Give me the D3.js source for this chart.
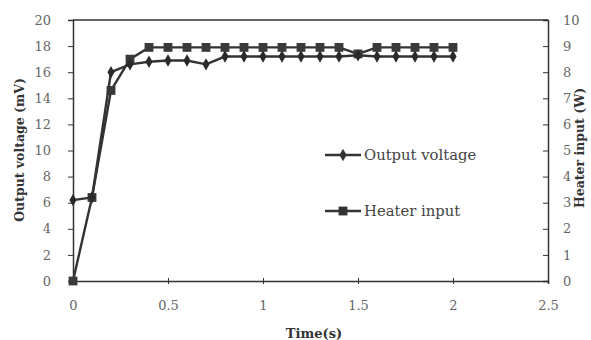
<!DOCTYPE html>
<html>
<head>
<meta charset="utf-8">
<script src="https://cdn.jsdelivr.net/npm/d3@7"></script>
<style>
  html, body { margin: 0; padding: 0; background: #fff; }
  svg { display: block; }
  text { font-family: "DejaVu Serif", "Liberation Serif", serif; }
</style>
</head>
<body>
<svg id="chart" width="591" height="340"></svg>
<script>
// Time samples (s)
const time = [0, 0.1, 0.2, 0.3, 0.4, 0.5, 0.6, 0.7, 0.8, 0.9, 1.0,
              1.1, 1.2, 1.3, 1.4, 1.5, 1.6, 1.7, 1.8, 1.9, 2.0];
// Output voltage (mV), left axis
const outputVoltage = [6.2, 6.4, 16.0, 16.6, 16.8, 16.9, 16.9, 16.6, 17.2, 17.2, 17.2,
                       17.2, 17.2, 17.2, 17.2, 17.3, 17.2, 17.2, 17.2, 17.2, 17.2];
// Heater input (W), right axis
const heaterInput = [0, 3.2, 7.3, 8.5, 8.95, 8.95, 8.95, 8.95, 8.95, 8.95, 8.95,
                     8.95, 8.95, 8.95, 8.95, 8.7, 8.95, 8.95, 8.95, 8.95, 8.95];

const xTicks = [0, 0.5, 1, 1.5, 2, 2.5];
const leftTicks = [0, 2, 4, 6, 8, 10, 12, 14, 16, 18, 20];
const rightTicks = [0, 1, 2, 3, 4, 5, 6, 7, 8, 9, 10];
const seriesNames = ["Output voltage", "Heater input"];

const svg = d3.select("#chart");
const m = { left: 73, right: 548, top: 20, bottom: 281 };
const ink = "#333";
const labelInk = "#666";
const serif = "'DejaVu Serif', 'Liberation Serif', serif";

const x = d3.scaleLinear().domain([0, 2.5]).range([m.left, m.right]);
const yL = d3.scaleLinear().domain([0, 20]).range([m.bottom, m.top]);
const yR = d3.scaleLinear().domain([0, 10]).range([m.bottom, m.top]);

// Frame: top border line
svg.append("line").attr("x1", m.left).attr("x2", m.right).attr("y1", m.top).attr("y2", m.top)
  .attr("stroke", ink).attr("stroke-width", 1.5);

// Left axis
const gL = svg.append("g").attr("transform", `translate(${m.left},0)`)
  .call(d3.axisLeft(yL).tickValues(leftTicks).tickSize(5).tickFormat(d3.format("d")));
// Right axis (ticks point inward)
const gR = svg.append("g").attr("transform", `translate(${m.right},0)`)
  .call(d3.axisRight(yR).tickValues(rightTicks).tickSize(-5).tickFormat(d3.format("d")));
// Bottom axis
const gB = svg.append("g").attr("transform", `translate(0,${m.bottom})`)
  .call(d3.axisBottom(x).tickValues(xTicks).tickSize(3).tickPadding(17).tickFormat(d3.format("")));
gB.selectAll(".tick line").attr("y1", -3);

[gL, gR, gB].forEach(g => {
  g.select(".domain").attr("stroke", ink).attr("stroke-width", 1.5);
  g.selectAll(".tick line").attr("stroke", ink).attr("stroke-width", 1);
  g.selectAll(".tick text").attr("fill", labelInk).style("font-size", "13px")
    .style("font-family", serif);
});
gL.selectAll(".tick text").attr("text-anchor", "end").attr("x", -22);
gR.selectAll(".tick text").attr("text-anchor", "start").attr("x", 15);

// Axis titles
svg.append("text").attr("transform", `translate(24,150) rotate(-90)`)
  .attr("text-anchor", "middle").attr("font-weight", "bold").attr("font-size", 12.5).attr("fill", ink)
  .text("Output voltage (mV)");
svg.append("text").attr("transform", `translate(584,148) rotate(-90)`)
  .attr("text-anchor", "middle").attr("font-weight", "bold").attr("font-size", 12.5).attr("fill", ink)
  .text("Heater input (W)");
svg.append("text").attr("x", 314).attr("y", 338)
  .attr("text-anchor", "middle").attr("font-weight", "bold").attr("font-size", 13).attr("fill", ink)
  .text("Time(s)");

const voltagePts = time.map((t, i) => [x(t), yL(outputVoltage[i])]);
const heaterPts = time.map((t, i) => [x(t), yR(heaterInput[i])]);
const line = d3.line();

const diamond = d3.symbol().type(d3.symbolDiamond).size(44);
const square = d3.symbol().type(d3.symbolSquare).size(78);

// Heater input series
svg.append("path").attr("d", line(heaterPts)).attr("fill", "none")
  .attr("stroke", ink).attr("stroke-width", 2.4);
svg.append("g").selectAll("path").data(heaterPts).join("path")
  .attr("transform", d => `translate(${d[0]},${d[1]})`).attr("d", square).attr("fill", "#3a3a3a");

// Output voltage series
svg.append("path").attr("d", line(voltagePts)).attr("fill", "none")
  .attr("stroke", ink).attr("stroke-width", 2.4);
svg.append("g").selectAll("path").data(voltagePts).join("path")
  .attr("transform", d => `translate(${d[0]},${d[1]})`).attr("d", diamond).attr("fill", "#2a2a2a");

// Legend
const legend = svg.append("g");
const legendRows = [
  { name: seriesNames[0], y: 155, sym: diamond },
  { name: seriesNames[1], y: 211, sym: square }
];
legendRows.forEach(r => {
  legend.append("line").attr("x1", 325).attr("x2", 361).attr("y1", r.y).attr("y2", r.y)
    .attr("stroke", ink).attr("stroke-width", 2.4);
  legend.append("path").attr("transform", `translate(343,${r.y})`).attr("d", r.sym).attr("fill", "#333");
  legend.append("text").attr("x", 364).attr("y", r.y + 5).attr("font-size", 14.8)
    .attr("fill", "#444").text(r.name);
});
</script>
</body>
</html>
